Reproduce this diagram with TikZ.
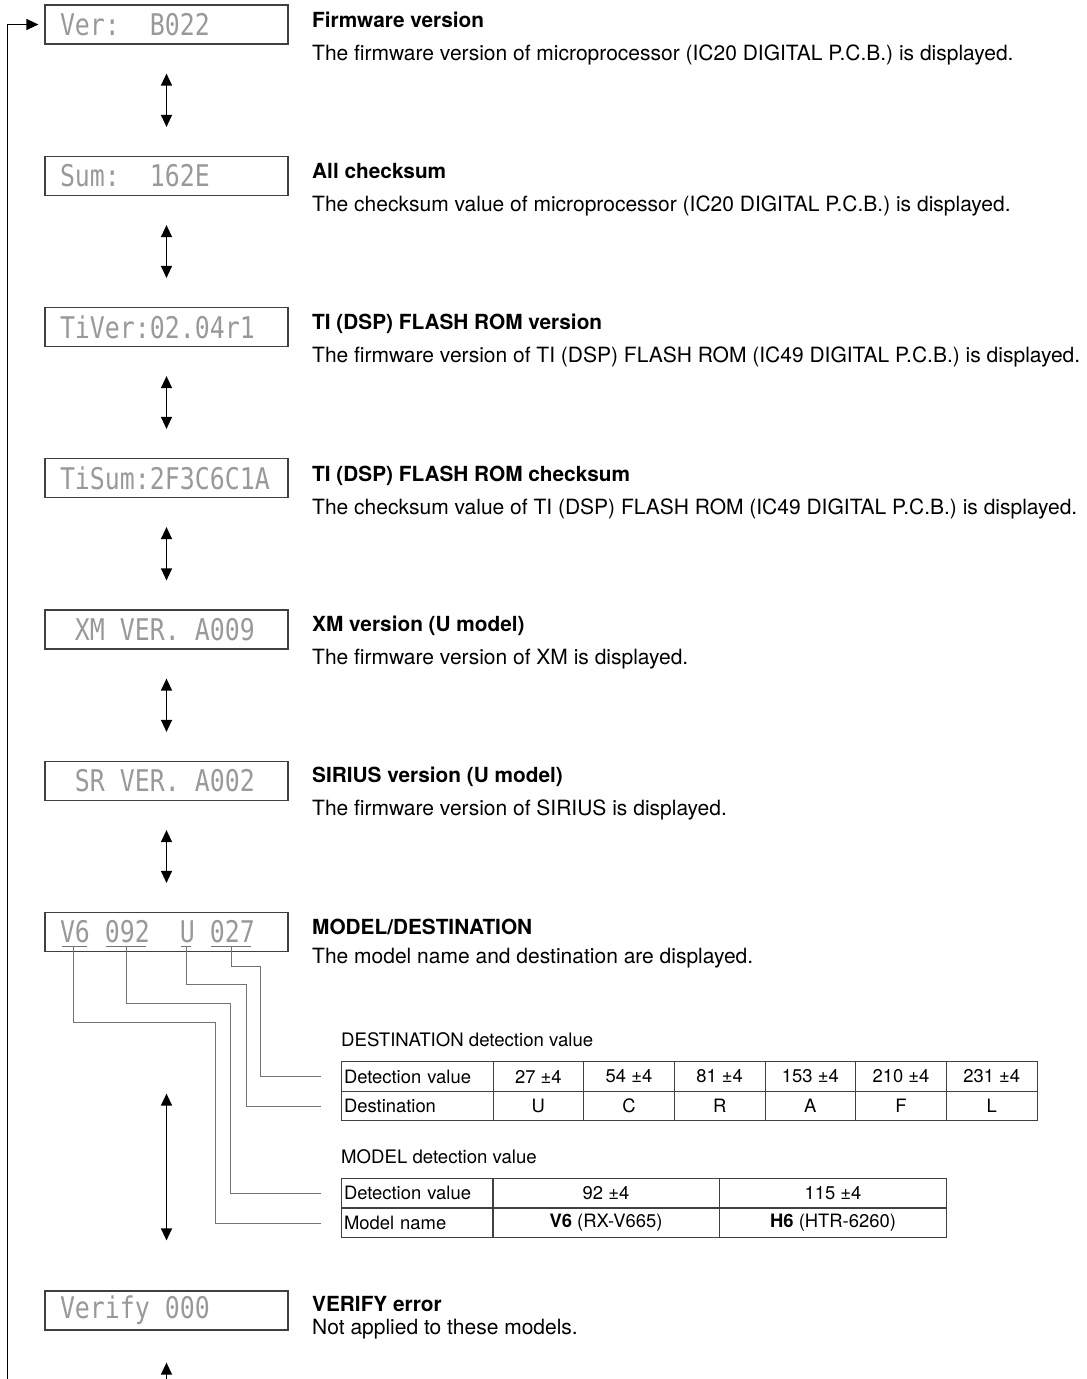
\documentclass[tikz,border=0pt]{standalone}
\usepackage{fontspec}
\setmainfont{TeX Gyre Heros}
\newfontfamily\lcdfont{DejaVu Sans Mono}
\usepackage{graphicx}
\usetikzlibrary{arrows.meta}
\newcommand{\lcdtext}[1]{\scalebox{1}[1.2]{\lcdfont\fontsize{24.9}{25}\selectfont #1}}
\newcommand{\blank}{\hphantom{0}}

\begin{document}
\begin{tikzpicture}[x=1pt,y=-1pt,
  font=\fontsize{21}{25}\selectfont,
  lcd/.style={draw=black!75,line width=1.2pt,minimum height=39pt,text width=213pt,inner xsep=15pt,inner ysep=0pt,align=left,text=black!40},
  ttl/.style={anchor=base west,inner xsep=0pt,font=\fontsize{20.8}{24}\selectfont\bfseries},
  desc/.style={anchor=base west,inner xsep=0pt},
  small/.style={font=\fontsize{18.4}{21}\selectfont},
  cell/.style={draw=black!75,line width=0.9pt,minimum width=90.67pt,minimum height=29.5pt,inner sep=0pt,small},
  head/.style={cell,minimum width=152pt,text width=146pt,inner xsep=3pt,align=left},
  wide/.style={cell,minimum width=227pt},
  lead/.style={draw=black!55,line width=1pt},
  updown/.style={<->,line width=1.3pt},
  >={Triangle[length=12pt,width=11pt]}]
  \useasboundingbox (0,0) rectangle (1087,1379);
  % display boxes
  \node[lcd] (ver) at (166.5,24.5) {\lcdtext{Ver:\blank\blank B022}};
  \node[lcd] (sum) at (166.5,176) {\lcdtext{Sum:\blank\blank 162E}};
  \node[lcd] (tiver) at (166.5,327) {\lcdtext{TiVer:02.04r1}};
  \node[lcd] (tisum) at (166.5,478) {\lcdtext{TiSum:2F3C6C1A}};
  \node[lcd] (xm) at (166.5,629.5) {\lcdtext{\blank XM\blank VER.\blank A009}};
  \node[lcd] (sr) at (166.5,781) {\lcdtext{\blank SR\blank VER.\blank A002}};
  \node[lcd] (model) at (166.5,932) {\lcdtext{V6\blank 092\blank\blank U\blank 027}};
  \node[lcd] (verify) at (166.5,1310.5) {\lcdtext{Verify\blank 000}};
  % titles and notes
  \node[ttl] (t1) at (312,27) {Firmware version};
  \node[desc] (d1) at (312,60) {The firmware version of microprocessor (IC20 DIGITAL P.C.B.) is displayed.};
  \node[ttl] (t2) at (312,178) {All checksum};
  \node[desc] (d2) at (312,211) {The checksum value of microprocessor (IC20 DIGITAL P.C.B.) is displayed.};
  \node[ttl] (t3) at (312,329) {TI (DSP) FLASH ROM version};
  \node[desc] (d3) at (312,362) {The firmware version of TI (DSP) FLASH ROM (IC49 DIGITAL P.C.B.) is displayed.};
  \node[ttl] (t4) at (312,481) {TI (DSP) FLASH ROM checksum};
  \node[desc] (d4) at (312,514) {The checksum value of TI (DSP) FLASH ROM (IC49 DIGITAL P.C.B.) is displayed.};
  \node[ttl] (t5) at (312,631) {XM version (U model)};
  \node[desc] (d5) at (312,664) {The firmware version of XM is displayed.};
  \node[ttl] (t6) at (312,782) {SIRIUS version (U model)};
  \node[desc] (d6) at (312,815) {The firmware version of SIRIUS is displayed.};
  \node[ttl] (t7) at (312,934) {MODEL/DESTINATION};
  \node[desc] (d7) at (312,963) {The model name and destination are displayed.};
  \node[ttl] (t8) at (312,1311) {VERIFY error};
  \node[desc] (d8) at (312,1334) {Not applied to these models.};
  % destination table
  \node[desc,font=\fontsize{18.6}{21}\selectfont] (dstlbl) at (341,1046) {DESTINATION detection value};
  \node[head] (dst-h1) at (417,1076.5) {Detection value};
  \node[head] (dst-h2) at (417,1106) {Destination};
  \foreach \v/\c [count=\i] in {27/U,54/C,81/R,153/A,210/F,231/L} {
    \node[cell] (dst-v\i) at ({493+90.67*(\i-0.5)},1076.5) {\v{} ±4};
    \node[cell] (dst-c\i) at ({493+90.67*(\i-0.5)},1106) {\c};
  }
  % model table
  \node[desc,font=\fontsize{18.6}{21}\selectfont] (mdllbl) at (341,1163) {MODEL detection value};
  \node[head] (mdl-h1) at (417,1193) {Detection value};
  \node[head] (mdl-h2) at (417,1223) {Model name};
  \node[wide] (mdl-v1) at (606,1193) {92 ±4};
  \node[wide] (mdl-v2) at (833,1193) {115 ±4};
  \node[wide] (mdl-n1) at (606,1223) {\textbf{V6} (RX-V665)};
  \node[wide] (mdl-n2) at (833,1223) {\textbf{H6} (HTR-6260)};
  % underlines and leads
  \coordinate (uv6) at (73.5,946);
  \coordinate (u092) at (126,946);
  \coordinate (uu) at (186,946);
  \coordinate (u027) at (231,946);
  \draw[lead] (62,946) -- (87,946) (106,946) -- (146,946) (181,946) -- (191,946) (211,946) -- (251,946);
  \draw[lead] (u027) -- ++(0,20) -| ([xshift=-80pt]dst-h1.west) -- ([xshift=-20pt]dst-h1.west);
  \draw[lead] (uu) -- ++(0,38) -| ([xshift=-94pt]dst-h2.west) -- ([xshift=-20pt]dst-h2.west);
  \draw[lead] (u092) -- ++(0,57) -| ([xshift=-110pt]mdl-h1.west) -- ([xshift=-20pt]mdl-h1.west);
  \draw[lead] (uv6) -- ++(0,76) -| ([xshift=-125pt]mdl-h2.west) -- ([xshift=-20pt]mdl-h2.west);
  % arrows
  \foreach \a/\b in {ver/sum,sum/tiver,tiver/tisum,tisum/xm,xm/sr,sr/model}
    \draw[updown,shorten <=29pt,shorten >=29pt] (\a) -- (\b);
  \draw[updown,shorten <=141.5pt,shorten >=50pt] (model) -- (verify);
  \coordinate (bot) at (166.5,1379);
  \draw[->,line width=1.3pt,shorten >=32pt] (bot) -- (verify);
  \coordinate (loop) at (7.5,1379);
  \draw[->,line width=1.4pt,shorten >=6pt] (loop) |- (ver.west);
\end{tikzpicture}
\end{document}
